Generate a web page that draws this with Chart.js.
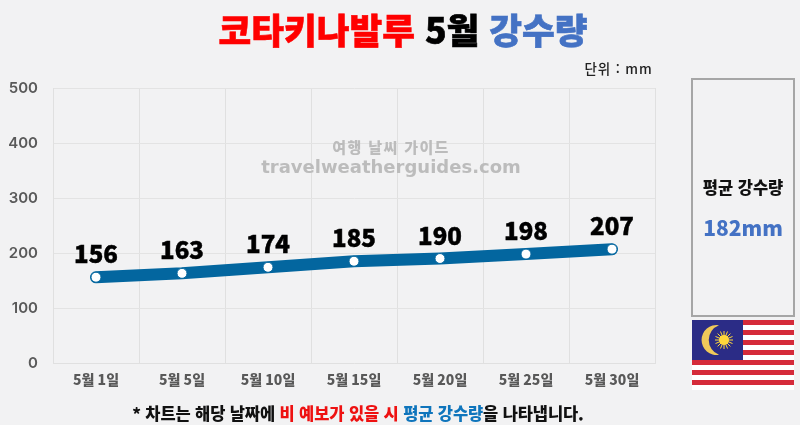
<!DOCTYPE html>
<html lang="ko"><head><meta charset="utf-8">
<script src="https://cdn.jsdelivr.net/npm/chart.js@4"></script>
<style>
html,body{margin:0;padding:0;background:#f2f2f3;overflow:hidden}
body{width:800px;height:425px;position:relative;font-family:"Noto Sans CJK KR","Noto Sans",sans-serif}
canvas{position:absolute;left:0;top:0}
.t{position:absolute;white-space:nowrap;transform:translate(-50%,-50%)}
#title{left:403px;top:28px;font-size:35.6px;font-weight:900;letter-spacing:0;-webkit-text-stroke:.6px currentColor}
#unit{left:618.5px;top:68px;font-size:13.5px;font-weight:500;color:#222;letter-spacing:.9px}
#wm1{left:391px;top:146px;font-size:15px;font-weight:900;color:#bcbcbc;letter-spacing:1.4px}
#wm2{left:391px;top:166px;font-size:18px;font-family:"DejaVu Sans";font-weight:700;color:#bcbcbc}
#panel{position:absolute;left:691px;top:78px;width:100px;height:235px;border:2.5px solid #a6a6a6}
#pl{left:743px;top:187px;font-size:16.5px;font-weight:900;color:#111}
#pv{left:743px;top:227px;font-size:21px;font-weight:900;color:#4472c4}
#foot{left:358px;top:413px;font-size:16.5px;font-weight:900;color:#111;letter-spacing:-.1px}
#flag{position:absolute;left:692px;top:320px}
</style></head><body>
<canvas id="c" width="800" height="425"></canvas>
<div class="t" id="title"><span style="color:#ff0000">코타키나발루</span> <span style="color:#000">5월</span> <span style="color:#4472c4">강수량</span></div>
<div class="t" id="unit">단위 : mm</div>
<div class="t" id="wm1">여행 날씨 가이드</div>
<div class="t" id="wm2">travelweatherguides.com</div>
<div id="panel"></div>
<div class="t" id="pl">평균 강수량</div>
<div class="t" id="pv">182mm</div>
<svg id="flag" width="102" height="70" viewBox="0 0 102 70">
<rect width="102" height="70" fill="#fff"/>
<g fill="#d52b3a"><rect y="0" width="102" height="5"/><rect y="10" width="102" height="5"/><rect y="20" width="102" height="5"/><rect y="30" width="102" height="5"/><rect y="40" width="102" height="5"/><rect y="50" width="102" height="5"/><rect y="60" width="102" height="5"/></g>
<rect width="51" height="40" fill="#2b2c86"/>
<path d="M27 5.200A15 15 0 1 0 27 34.800A15.800 15.800 0 0 1 27 5.200z" fill="#f0c95a"/>
<circle cx="32" cy="20" r="5" fill="#ffd83a"/>
<g stroke="#ffd83a" stroke-width="1"><path d="M32 11V29M23 20H41M25.600 13.600L38.400 26.400M25.600 26.400L38.400 13.600M28.500 11.500L35.500 28.500M35.500 11.500L28.500 28.500M23.500 16.500L40.500 23.500M23.500 23.500L40.500 16.500"/></g>
</svg>
<div class="t" id="foot">* 차트는 해당 날짜에 <span style="color:#ee1111">비 예보가 있을 시</span> <span style="color:#0f75bc">평균 강수량</span>을 나타냅니다.</div>
<script>
const categories=["5월 1일","5월 5일","5월 10일","5월 15일","5월 20일","5월 25일","5월 30일"];
const rainfall=[156,163,174,185,190,198,207];
const yMax=500, yStep=100;
const valueLabels={id:"valueLabels",afterDatasetsDraw(chart){
  const ctx=chart.ctx,pts=chart.getDatasetMeta(0).data;
  ctx.save();ctx.font='900 24px "Noto Sans CJK KR"';ctx.fillStyle="#000";ctx.strokeStyle="#000";ctx.lineWidth=.5;ctx.textAlign="center";ctx.textBaseline="middle";
  pts.forEach((p,i)=>{ctx.fillText(String(rainfall[i]),p.x,p.y-23);ctx.strokeText(String(rainfall[i]),p.x,p.y-23);});
  ctx.restore();
}};
new Chart(document.getElementById("c"),{
  type:"line",
  data:{labels:categories,datasets:[{data:rainfall,borderColor:"#03669f",borderWidth:12,borderCapStyle:"round",borderJoinStyle:"round",tension:0,
    pointRadius:5,pointBackgroundColor:"#ffffff",pointBorderColor:"#03669f",pointBorderWidth:1,clip:false}]},
  options:{responsive:false,animation:false,devicePixelRatio:1,
    layout:{padding:{top:88,right:145,left:0,bottom:0}},
    plugins:{legend:{display:false},tooltip:{enabled:false},title:{display:false}},
    scales:{
      x:{offset:true,grid:{offset:true,color:"#e0e0e0",lineWidth:1,drawTicks:false},border:{color:"#e0e0e0"},
        afterFit(s){s.height=62},
        ticks:{color:"#595959",font:{family:'"Noto Sans CJK KR"',size:14,weight:"900"},padding:8,maxRotation:0}},
      y:{min:0,max:yMax,grid:{color:"#e3e3e3",lineWidth:1,drawTicks:false},border:{color:"#e0e0e0"},
        afterFit(s){s.width=53},
        ticks:{stepSize:yStep,color:"#595959",font:{family:'"Inter"',size:15,weight:"600"},padding:15}}
    }
  },
  plugins:[valueLabels]
});
</script>
</body></html>
